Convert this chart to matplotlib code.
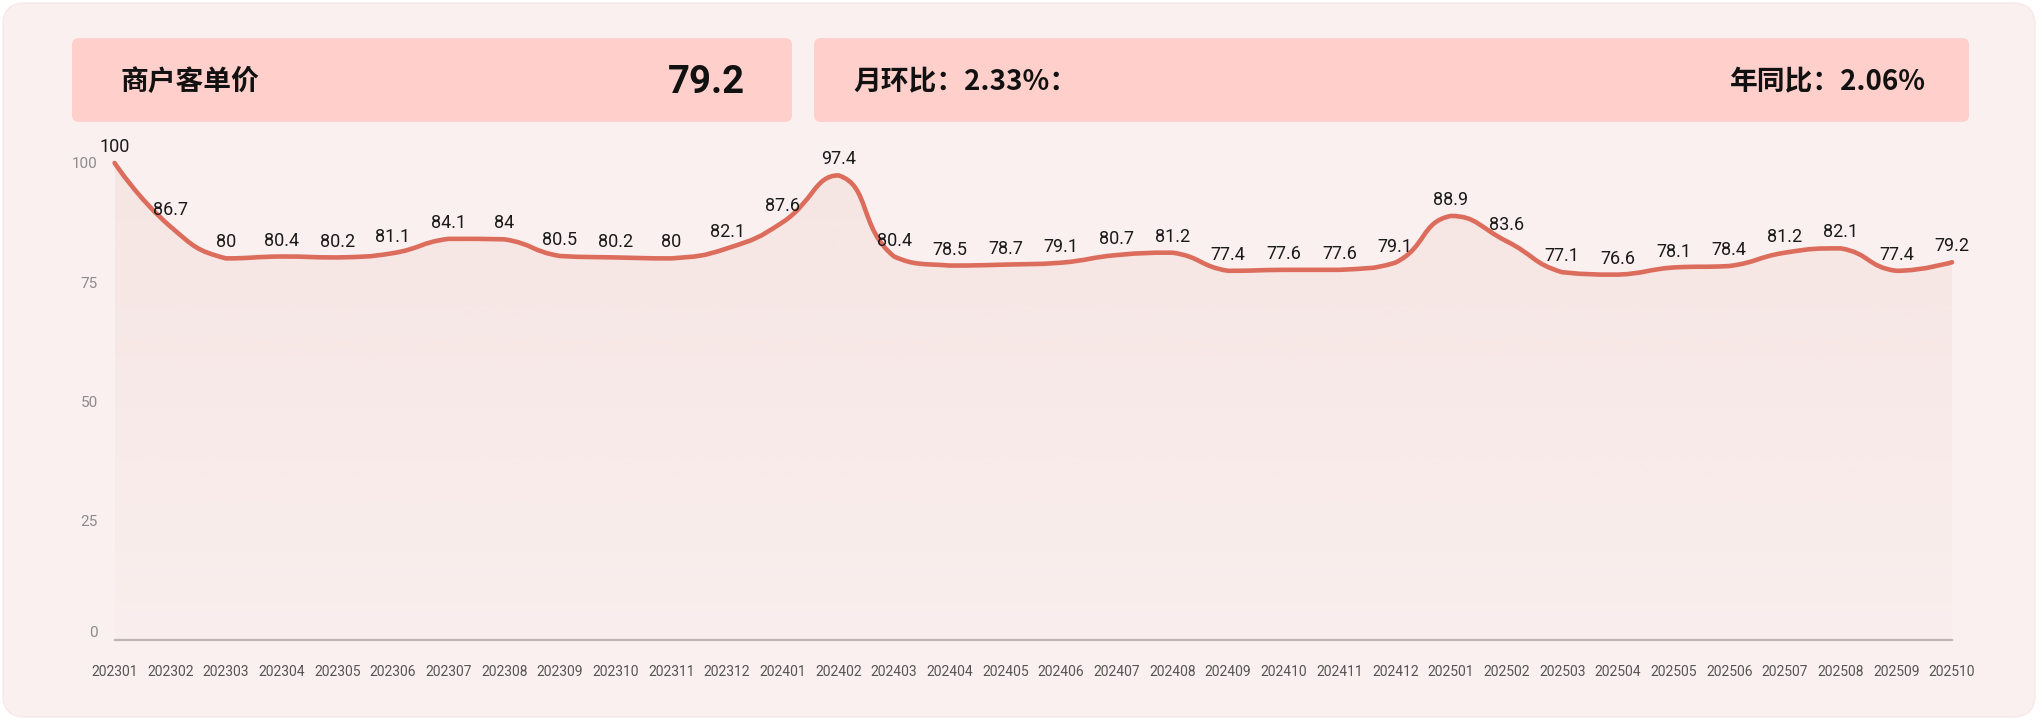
import matplotlib
matplotlib.use('Agg')
import matplotlib.pyplot as plt
from matplotlib.patches import FancyBboxPatch, PathPatch
from matplotlib.path import Path
import numpy as np

# ---------------- data ----------------
months = ['202301', '202302', '202303', '202304', '202305', '202306', '202307', '202308',
          '202309', '202310', '202311', '202312', '202401', '202402', '202403', '202404',
          '202405', '202406', '202407', '202408', '202409', '202410', '202411', '202412',
          '202501', '202502', '202503', '202504', '202505', '202506', '202507', '202508',
          '202509', '202510']
values = [100, 86.7, 80, 80.4, 80.2, 81.1, 84.1, 84, 80.5, 80.2, 80, 82.1,
          87.6, 97.4, 80.4, 78.5, 78.7, 79.1, 80.7, 81.2, 77.4, 77.6, 77.6, 79.1,
          88.9, 83.6, 77.1, 76.6, 78.1, 78.4, 81.2, 82.1, 77.4, 79.2]
yticks = [0, 25, 50, 75, 100]
title_text = '商户客单价'
kpi_text = '79.2'
mom_text = '月环比：2.33%：'
yoy_text = '年同比：2.06%'

# ---------------- style ----------------
W, H = 2042, 725
CARD = '#FAF0EF'
BOX = '#FFCFCB'
LINE = '#DC6C5C'
plt.rcParams['font.family'] = ['Roboto', 'Noto Sans CJK SC', 'DejaVu Sans']
CJK = ['Noto Sans CJK SC', 'DejaVu Sans']

fig = plt.figure(figsize=(W / 100, H / 100), dpi=100, facecolor='white')

# background axes in pixel coordinates
bg = fig.add_axes([0, 0, 1, 1], zorder=0)
bg.set_xlim(0, W)
bg.set_ylim(H, 0)
bg.axis('off')
bg.add_patch(FancyBboxPatch((3, 3), 2032, 714, boxstyle='round,pad=0,rounding_size=22',
                            facecolor=CARD, edgecolor='#F5EAE8', lw=1))
bg.add_patch(FancyBboxPatch((72, 38), 720, 84, boxstyle='round,pad=0,rounding_size=7',
                            facecolor=BOX, edgecolor='none'))
bg.add_patch(FancyBboxPatch((814, 38), 1155, 84, boxstyle='round,pad=0,rounding_size=7',
                            facecolor=BOX, edgecolor='none'))
bg.text(120, 82, title_text, family=CJK, fontsize=20, fontweight='bold', color='#111',
        ha='left', va='center')
bg.text(745, 82, kpi_text, fontsize=27.5, fontweight='bold', color='#111',
        ha='right', va='center')
bg.text(853, 82, mom_text, family=CJK, fontsize=20, fontweight='bold', color='#111',
        ha='left', va='center')
bg.text(1926, 82, yoy_text, family=CJK, fontsize=20, fontweight='bold', color='#111',
        ha='right', va='center')

# main axes
x0, x1 = 114.6, 1952.0
ybase, ytop = 640.0, 163.0
ax = fig.add_axes([x0 / W, (H - ybase) / H, (x1 - x0) / W, (ybase - ytop) / H], zorder=2)
ax.set_facecolor('none')
n = len(values)
xs = np.arange(n)

# smooth path (ECharts-like bezier) built in pixel-scaled space
sx = (x1 - x0) / (n - 1)
sy = (ybase - ytop) / 100.0
P = np.column_stack([xs * sx, np.array(values, dtype=float) * sy])
smooth = 0.5
verts = [P[0]]
codes = [Path.MOVETO]
cp_out = P[0].copy()
for i in range(1, n):
    p = P[i]
    if i < n - 1:
        prev, nxt = P[i - 1], P[i + 1]
        v = nxt - prev
        d0 = np.hypot(*(p - prev))
        d1 = np.hypot(*(nxt - p))
        r = d1 / (d0 + d1)
        cp_in = p - v * smooth * (1 - r)
        cp_next = p + v * smooth * r
        lo, hi = min(prev[1], nxt[1], p[1]), max(prev[1], nxt[1], p[1])
        cp_in[1] = np.clip(cp_in[1], lo, hi)
        cp_next[1] = np.clip(cp_next[1], lo, hi)
    else:
        cp_in = p.copy()
        cp_next = p.copy()
    verts += [cp_out, cp_in, p]
    codes += [Path.CURVE4] * 3
    cp_out = cp_next
V = np.array(verts)
V[:, 0] /= sx
V[:, 1] /= sy
line_path = Path(V, codes)

# area
area_verts = np.vstack([V, [[n - 1, 0], [0, 0], V[0]]])
area_codes = codes + [Path.LINETO, Path.LINETO, Path.CLOSEPOLY]
area_path = Path(area_verts, area_codes)
clip = PathPatch(area_path, facecolor='none', edgecolor='none', transform=ax.transData)
ax.add_patch(clip)
grad = np.zeros((256, 2, 4))
t = np.linspace(1, 0, 256)[:, None]
grad[..., 0] = 232 / 255
grad[..., 1] = 196 / 255
grad[..., 2] = 190 / 255
grad[..., 3] = 0.03 + 0.22 * t
im = ax.imshow(grad, extent=[0, n - 1, 0, 100], aspect='auto', origin='upper',
               interpolation='bilinear', zorder=1)
im.set_clip_path(clip)

line = PathPatch(line_path, facecolor='none', edgecolor=LINE, lw=3.3,
                 capstyle='round', joinstyle='round', clip_on=False, zorder=3)
ax.add_patch(line)

for i, v in enumerate(values):
    ax.annotate(f'{v:g}', (i, v), xytext=(0, 5), textcoords='offset points',
                ha='center', va='bottom', fontsize=13, color='#1a1a1a', zorder=4,
                annotation_clip=False)

ax.set_xlim(0, n - 1)
ax.set_ylim(0, 100)
ax.set_xticks(xs)
ax.set_xticklabels(months)
ax.set_yticks(yticks)
ax.tick_params(axis='x', length=0, pad=18, labelsize=10, labelcolor='#555555')
ax.tick_params(axis='y', length=0, pad=12, labelsize=11, labelcolor='#8c8c8c')
ax.get_yticklabels()[0].set_verticalalignment('bottom')
for s in ['top', 'right', 'left']:
    ax.spines[s].set_visible(False)
ax.spines['bottom'].set_color('#BDB5B4')
ax.spines['bottom'].set_linewidth(1.6)

fig.savefig('out.png', dpi=100, facecolor='white')
